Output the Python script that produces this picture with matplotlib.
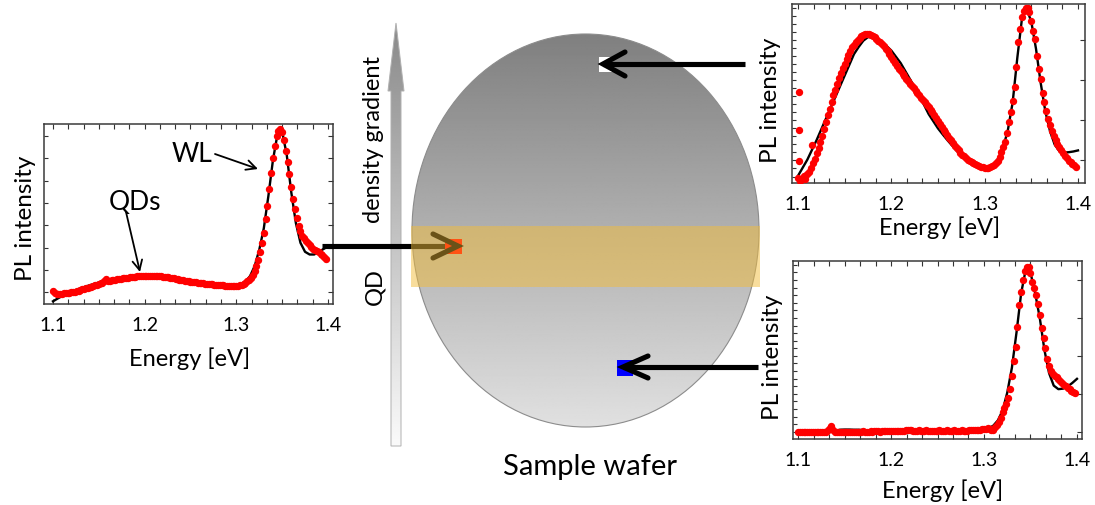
import numpy as np
import matplotlib
matplotlib.use("Agg")
import matplotlib.pyplot as plt
from matplotlib.patches import Ellipse, Rectangle, Polygon
from matplotlib.ticker import FixedLocator, MultipleLocator

plt.rcParams['font.family'] = ['Lato', 'DejaVu Sans']

W, H = 1095, 506

# energy grids (eV): measured points and fitted curve
energy = np.round(np.arange(1.100, 1.3985, 0.002), 3)
energy_fit = np.round(np.arange(1.100, 1.4001, 0.005), 3)

# PL spectrum, middle of wafer (left panel), normalised intensity
pl_mid = [0.070, 0.062, 0.058, 0.057, 0.057, 0.058, 0.059, 0.060, 0.061, 0.063,
          0.064, 0.067, 0.069, 0.072, 0.075, 0.078, 0.081, 0.084, 0.087, 0.090,
          0.093, 0.096, 0.100, 0.103, 0.107, 0.110, 0.114, 0.119, 0.128, 0.140,
          0.128, 0.129, 0.131, 0.133, 0.135, 0.137, 0.139, 0.141, 0.143, 0.145,
          0.146, 0.147, 0.148, 0.150, 0.151, 0.152, 0.153, 0.153, 0.154, 0.154,
          0.154, 0.155, 0.155, 0.155, 0.154, 0.154, 0.154, 0.154, 0.153, 0.153,
          0.152, 0.151, 0.150, 0.148, 0.147, 0.145, 0.143, 0.141, 0.139, 0.136,
          0.134, 0.132, 0.130, 0.128, 0.126, 0.124, 0.123, 0.121, 0.120, 0.118,
          0.117, 0.116, 0.115, 0.113, 0.112, 0.111, 0.110, 0.109, 0.108, 0.107,
          0.106, 0.105, 0.104, 0.103, 0.101, 0.100, 0.099, 0.098, 0.098, 0.098,
          0.099, 0.101, 0.103, 0.106, 0.111, 0.118, 0.126, 0.135, 0.146, 0.160,
          0.182, 0.210, 0.245, 0.287, 0.340, 0.395, 0.470, 0.546, 0.640, 0.730,
          0.810, 0.880, 0.935, 0.962, 0.972, 0.955, 0.910, 0.850, 0.787, 0.725,
          0.650, 0.585, 0.528, 0.480, 0.435, 0.405, 0.380, 0.365, 0.352, 0.338,
          0.328, 0.318, 0.308, 0.300, 0.293, 0.287, 0.280, 0.271, 0.262, 0.250]
fit_mid = [0.015, 0.030, 0.045, 0.057, 0.068, 0.078, 0.087, 0.096, 0.104, 0.112,
           0.119, 0.125, 0.130, 0.135, 0.139, 0.143, 0.146, 0.148, 0.150, 0.151,
           0.151, 0.151, 0.150, 0.148, 0.146, 0.143, 0.140, 0.136, 0.132, 0.128,
           0.124, 0.120, 0.116, 0.113, 0.110, 0.107, 0.105, 0.103, 0.102, 0.102,
           0.104, 0.110, 0.125, 0.155, 0.210, 0.300, 0.420, 0.600, 0.800, 0.945,
           0.958, 0.830, 0.620, 0.450, 0.340, 0.290, 0.275, 0.275, 0.290, 0.305,
           0.320]

# PL spectrum, top of wafer (high QD density)
pl_top = [0.030, 0.012, 0.025, 0.040, 0.020, 0.050, 0.060, 0.085, 0.110, 0.136,
          0.165, 0.197, 0.229, 0.265, 0.300, 0.340, 0.378, 0.415, 0.452, 0.489,
          0.522, 0.555, 0.585, 0.612, 0.640, 0.665, 0.693, 0.715, 0.737, 0.757,
          0.772, 0.786, 0.800, 0.812, 0.820, 0.827, 0.831, 0.833, 0.832, 0.828,
          0.822, 0.815, 0.806, 0.796, 0.786, 0.775, 0.763, 0.750, 0.736, 0.721,
          0.705, 0.688, 0.671, 0.655, 0.639, 0.624, 0.609, 0.595, 0.581, 0.568,
          0.555, 0.542, 0.529, 0.516, 0.503, 0.490, 0.477, 0.464, 0.450, 0.437,
          0.423, 0.409, 0.394, 0.378, 0.362, 0.346, 0.330, 0.314, 0.298, 0.283,
          0.268, 0.253, 0.238, 0.223, 0.209, 0.195, 0.182, 0.170, 0.159, 0.149,
          0.140, 0.131, 0.123, 0.116, 0.110, 0.104, 0.099, 0.095, 0.091, 0.088,
          0.086, 0.085, 0.085, 0.088, 0.094, 0.102, 0.110, 0.122, 0.145, 0.173,
          0.200, 0.229, 0.280, 0.340, 0.396, 0.460, 0.535, 0.650, 0.786, 0.860,
          0.925, 0.963, 0.975, 0.975, 0.958, 0.905, 0.850, 0.805, 0.712, 0.638,
          0.580, 0.505, 0.452, 0.400, 0.359, 0.325, 0.292, 0.264, 0.240, 0.220,
          0.200, 0.183, 0.166, 0.152, 0.138, 0.125, 0.117, 0.108, 0.100, 0.092]
stray_e = [1.101, 1.101, 1.101, 1.1146]
stray_top = [0.511, 0.294, 0.123, 0.210]
fit_top = [0.040, 0.085, 0.130, 0.185, 0.240, 0.300, 0.360, 0.420, 0.480, 0.540,
           0.600, 0.660, 0.720, 0.760, 0.795, 0.815, 0.815, 0.800, 0.785, 0.765,
           0.740, 0.705, 0.670, 0.625, 0.580, 0.535, 0.487, 0.437, 0.385, 0.345,
           0.305, 0.272, 0.240, 0.210, 0.180, 0.152, 0.130, 0.113, 0.101, 0.092,
           0.087, 0.090, 0.105, 0.140, 0.200, 0.300, 0.450, 0.700, 0.920, 0.975,
           0.900, 0.750, 0.560, 0.400, 0.290, 0.215, 0.178, 0.170, 0.172, 0.176,
           0.182]

# PL spectrum, bottom of wafer (low QD density)
pl_bot = [0.040, 0.038, 0.040, 0.041, 0.040, 0.041, 0.042, 0.040, 0.041, 0.042,
          0.040, 0.041, 0.042, 0.041, 0.040, 0.042, 0.048, 0.062, 0.072, 0.050,
          0.042, 0.041, 0.040, 0.041, 0.042, 0.041, 0.040, 0.041, 0.042, 0.041,
          0.040, 0.041, 0.042, 0.041, 0.042, 0.043, 0.042, 0.041, 0.042, 0.043,
          0.042, 0.043, 0.044, 0.043, 0.042, 0.043, 0.044, 0.045, 0.044, 0.045,
          0.046, 0.045, 0.046, 0.047, 0.046, 0.045, 0.046, 0.047, 0.048, 0.050,
          0.052, 0.049, 0.047, 0.046, 0.047, 0.048, 0.047, 0.046, 0.047, 0.048,
          0.047, 0.046, 0.047, 0.047, 0.046, 0.047, 0.048, 0.047, 0.046, 0.047,
          0.048, 0.047, 0.046, 0.047, 0.048, 0.047, 0.046, 0.047, 0.048, 0.047,
          0.046, 0.047, 0.048, 0.049, 0.050, 0.050, 0.051, 0.052, 0.053, 0.054,
          0.056, 0.058, 0.060, 0.058, 0.052, 0.050, 0.065, 0.078, 0.095, 0.120,
          0.150, 0.175, 0.197, 0.230, 0.280, 0.355, 0.440, 0.516, 0.630, 0.755,
          0.825, 0.895, 0.945, 0.968, 0.965, 0.930, 0.882, 0.850, 0.808, 0.760,
          0.695, 0.625, 0.565, 0.510, 0.450, 0.410, 0.382, 0.366, 0.356, 0.347,
          0.337, 0.327, 0.317, 0.306, 0.295, 0.287, 0.280, 0.272, 0.265, 0.258]
fit_bot = [0.040, 0.041, 0.041, 0.042, 0.042, 0.042, 0.043, 0.044, 0.046, 0.052,
           0.053, 0.053, 0.052, 0.052, 0.050, 0.046, 0.045, 0.045, 0.045, 0.046,
           0.046, 0.046, 0.047, 0.047, 0.047, 0.047, 0.047, 0.047, 0.047, 0.047,
           0.047, 0.047, 0.047, 0.047, 0.047, 0.048, 0.048, 0.049, 0.050, 0.052,
           0.055, 0.060, 0.075, 0.105, 0.160, 0.260, 0.400, 0.600, 0.820, 0.955,
           0.935, 0.820, 0.680, 0.500, 0.370, 0.300, 0.280, 0.283, 0.295, 0.315,
           0.338]

xtick_vals = [1.1, 1.2, 1.3, 1.4]
xtick_text = ['1.1', '1.2', '1.3', '1.4']

fig = plt.figure(figsize=(W / 100, H / 100), dpi=100)


def px_axes(x0, y0, x1, y1):
    return fig.add_axes([x0 / W, 1 - y1 / H, (x1 - x0) / W, (y1 - y0) / H])


def px_text(x, y, s, **kw):
    return fig.text(x / W, 1 - y / H, s, **kw)


def panel(box, xlim, e, pl, fit, left_ticks, right_ticks, ylab_xy, xlab_xy):
    ax = px_axes(*box)
    ax.plot(energy_fit, fit, color='black', lw=1.7, zorder=2)
    ax.plot(e, pl, 'o', color='#ff0000', ms=5.3, mec='none', zorder=3)
    ax.set_xlim(*xlim)
    ax.set_ylim(0, 1)
    ax.xaxis.set_major_locator(FixedLocator(xtick_vals))
    ax.set_xticklabels(xtick_text)
    ax.xaxis.set_minor_locator(MultipleLocator(0.1 / 6))
    ax.tick_params(axis='x', which='both', direction='in', top=True,
                   length=3.5, width=0.8, color='#333333', labelsize=14, pad=9)
    ax.yaxis.remove_overlapping_locs = False
    ax.yaxis.set_major_locator(FixedLocator(left_ticks))
    ax.yaxis.set_minor_locator(FixedLocator(right_ticks))
    ax.tick_params(axis='y', which='major', direction='in', left=True, right=False,
                   length=3, width=0.8, color='#333333', labelleft=False)
    ax.tick_params(axis='y', which='minor', direction='in', left=False, right=True,
                   length=3.5, width=0.8, color='#333333', labelleft=False)
    for s in ax.spines.values():
        s.set_color('#3a3a3a')
        s.set_linewidth(1.1)
    px_text(ylab_xy[0], ylab_xy[1], 'PL intensity', rotation=90, rotation_mode='anchor',
            ha='center', va='baseline', fontsize=17.5)
    px_text(xlab_xy[0], xlab_xy[1], 'Energy [eV]', ha='center', va='baseline', fontsize=17)
    return ax


mid_ticks = list(0.065 + 0.124 * np.arange(8))
ax_mid = panel((44, 125, 333, 305), (1.0902, 1.4055), energy, pl_mid, fit_mid,
               mid_ticks, mid_ticks, (32, 218), (190, 366))

ax_top = panel((792, 5, 1085, 184), (1.0936, 1.4075), energy, pl_top, fit_top,
               list(0.126 + 0.0449 * np.arange(-2, 20)), list(0.126 + 0.2245 * np.arange(4)),
               (777, 100), (940, 235))
ax_top.plot(stray_e, stray_top, 'o', color='#ff0000', ms=5.3, mec='none', zorder=3)

ax_bot = panel((793, 262, 1082, 440), (1.0946, 1.4054), energy, pl_bot, fit_bot,
               list(0.041 + 0.0426 * np.arange(23)), list(0.041 + 0.213 * np.arange(5)),
               (779, 357), (943, 498))

# overlay in pixel coordinates for the wafer sketch and arrows
ov = fig.add_axes([0, 0, 1, 1], zorder=10)
ov.patch.set_alpha(0)

# wafer with vertical grey gradient
grad = np.linspace(0.50, 0.88, 256)[:, None]
im = ov.imshow(grad, cmap='gray', vmin=0, vmax=1, extent=(412, 759, 428, 35),
               aspect='auto', interpolation='bilinear', zorder=1)
wafer = Ellipse((585.5, 231.5), 347, 393, fc='none', ec='#8c8c8c', lw=0.8, zorder=2)
ov.add_patch(wafer)
im.set_clip_path(wafer)

# density gradient arrow
arrow_pts = [(391, 447), (391, 92), (388, 92), (396, 24), (404, 92), (401, 92), (401, 447)]
garrow = Polygon(arrow_pts, closed=True, fc='none', ec='#b0b0b0', lw=0.7, zorder=2)
ov.add_patch(garrow)
grad2 = np.linspace(0.54, 0.98, 256)[:, None]
im2 = ov.imshow(grad2, cmap='gray', vmin=0, vmax=1, extent=(386, 406, 447, 24),
                aspect='auto', interpolation='bilinear', zorder=1)
im2.set_clip_path(garrow)

px_text(380, 140, 'density gradient', rotation=90, rotation_mode='anchor',
        ha='center', va='baseline', fontsize=17, zorder=20)
px_text(381, 287, 'QD', rotation=90, rotation_mode='anchor',
        ha='center', va='baseline', fontsize=17, zorder=20)
px_text(590, 475, 'Sample wafer', ha='center', va='baseline', fontsize=21)

# measurement spots
ov.add_patch(Rectangle((599, 58), 13, 15, fc='white', ec='none', zorder=3))
ov.add_patch(Rectangle((617, 361), 16, 16, fc='#0000ff', ec='none', zorder=3))

# band of the middle spectrum
ov.add_patch(Rectangle((411, 227), 349, 61, fc='#f2bc3a', alpha=0.5, ec='none', zorder=5))
ov.add_patch(Rectangle((445, 240), 17, 15, fc='#ff5214', ec='none', zorder=6))

lw_arrow = 3.7
# top arrow
ov.plot([603, 745], [65, 65], color='black', lw=lw_arrow, solid_capstyle='butt', zorder=4)
ov.plot([625, 603, 625], [53, 65, 77], color='black', lw=lw_arrow,
        solid_capstyle='round', solid_joinstyle='miter', zorder=4)
# bottom arrow
ov.plot([623, 758], [368, 368], color='black', lw=lw_arrow, solid_capstyle='butt', zorder=4)
ov.plot([648, 623, 648], [357, 368, 379], color='black', lw=lw_arrow,
        solid_capstyle='round', solid_joinstyle='miter', zorder=4)
# middle arrow (partly under the band)
ov.plot([322, 455], [247, 247], color='black', lw=lw_arrow, solid_capstyle='butt', zorder=4)
ov.plot([433, 458, 433], [235, 247, 259], color='#6a5218', lw=lw_arrow,
        solid_capstyle='round', solid_joinstyle='miter', zorder=7)

# annotations in the left panel
px_text(135, 203, 'QDs', ha='center', va='center', fontsize=19)
px_text(192, 155, 'WL', ha='center', va='center', fontsize=19)
ov.annotate('', xy=(140, 273), xytext=(126, 213),
            arrowprops=dict(arrowstyle='->,head_length=0.7,head_width=0.35', lw=1.3,
                            color='black', shrinkA=0, shrinkB=0))
ov.annotate('', xy=(258, 170), xytext=(215, 155),
            arrowprops=dict(arrowstyle='->,head_length=0.7,head_width=0.35', lw=1.3,
                            color='black', shrinkA=0, shrinkB=0))

ov.set_xlim(0, W)
ov.set_ylim(H, 0)
ov.axis('off')

fig.savefig('out.png', dpi=100)
